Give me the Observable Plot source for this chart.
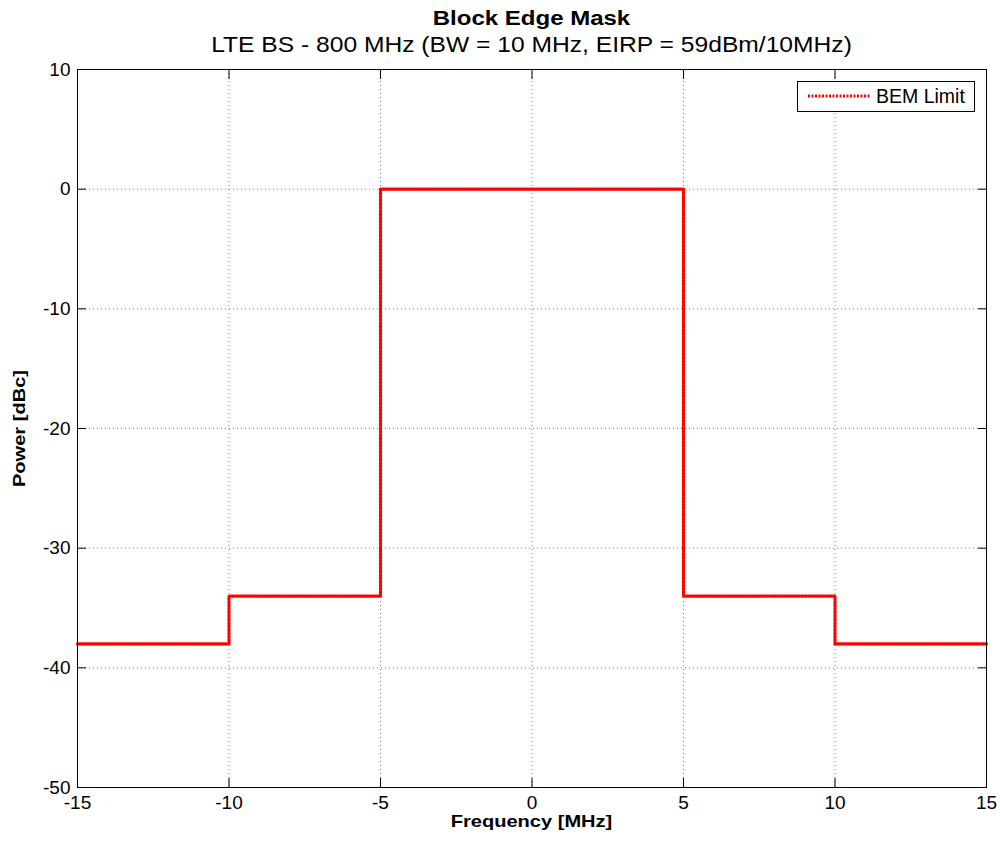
<!DOCTYPE html>
<html><head><meta charset="utf-8">
<script src="https://cdn.jsdelivr.net/npm/d3@7"></script>
<script src="https://cdn.jsdelivr.net/npm/@observablehq/plot@0.6"></script>
<style>
body{margin:0;background:#fff;font-family:"Liberation Sans",Arial,sans-serif;}
#wrap{position:relative;width:1000px;height:843px;}
.t{position:absolute;left:77px;width:909px;text-align:center;color:#000;white-space:nowrap;}
#title{top:8px;font-weight:bold;font-size:20px;line-height:20px;transform:scaleX(1.2);}
#sub{top:35px;font-size:21.5px;line-height:21.5px;transform:scaleX(1.145);}
#xlab{top:813px;font-weight:bold;font-size:17px;line-height:17px;transform:scaleX(1.18);}
#ylab{position:absolute;left:19px;top:428px;width:0;height:0;}
#ylab div{position:absolute;left:-100px;top:-8.5px;width:200px;text-align:center;font-weight:bold;font-size:17px;line-height:17px;transform:rotate(-90deg) scaleX(1.18);white-space:nowrap;}
#legend{position:absolute;left:797px;top:81px;width:178px;height:31px;border:1px solid #000;background:#fff;box-sizing:border-box;font-size:19.5px;line-height:19.5px;}
#legend svg{position:absolute;left:10px;top:12px;}
#legend span{position:absolute;left:78px;top:5px;}
</style></head>
<body><div id="wrap">
<div id="chart"></div>
<div class="t" id="title">Block Edge Mask</div>
<div class="t" id="sub">LTE BS - 800 MHz (BW = 10 MHz, EIRP = 59dBm/10MHz)</div>
<div class="t" id="xlab">Frequency [MHz]</div>
<div id="ylab"><div>Power [dBc]</div></div>
<div id="legend"><svg width="62" height="4"><line x1="0" y1="2" x2="62" y2="2" stroke="red" stroke-width="3" stroke-dasharray="2,1.5"/></svg><span>BEM Limit</span></div>
</div>
<script>
// Step mask: breakpoints (MHz) and level starting at each breakpoint (dBc)
const freq = [-15, -10, -5, 5, 10, 15];
const level = [-38, -34, 0, -34, -38, -38];
const xTicks = [-15, -10, -5, 0, 5, 10, 15];
const yTicks = [-50, -40, -30, -20, -10, 0, 10];

const data = freq.map((f, i) => ({f, p: level[i]}));

const chart = Plot.plot({
  width: 1000, height: 843,
  marginTop: 69, marginLeft: 77, marginRight: 14, marginBottom: 56,
  style: {fontFamily: '"Liberation Sans", Arial, sans-serif', fontSize: "19px", color: "#000", background: "#fff"},
  x: {domain: [-15, 15]},
  y: {domain: [-50, 10]},
  marks: [
    Plot.gridX(xTicks, {stroke: "#000", strokeOpacity: 0.5, strokeDasharray: "1,3"}),
    Plot.gridY(yTicks, {stroke: "#000", strokeOpacity: 0.5, strokeDasharray: "1,3"}),
    Plot.line(data, {x: "f", y: "p", curve: "step-after", stroke: "red", strokeWidth: 3.2, strokeDasharray: "2,1.5"}),
    Plot.frame({stroke: "#000", strokeWidth: 1}),
    Plot.axisX(xTicks, {anchor: "bottom", tickSize: -9, tickPadding: 17, label: null, fontSize: 19, tickFormat: d => d}),
    Plot.axisX(xTicks, {anchor: "top", tickSize: -9, tickFormat: () => "", label: null}),
    Plot.axisY(yTicks, {anchor: "left", tickSize: -9, tickPadding: 16, label: null, fontSize: 19, tickFormat: d => d}),
    Plot.axisY(yTicks, {anchor: "right", tickSize: -9, tickFormat: () => "", label: null})
  ]
});
document.getElementById("chart").appendChild(chart);
</script>
</body></html>
